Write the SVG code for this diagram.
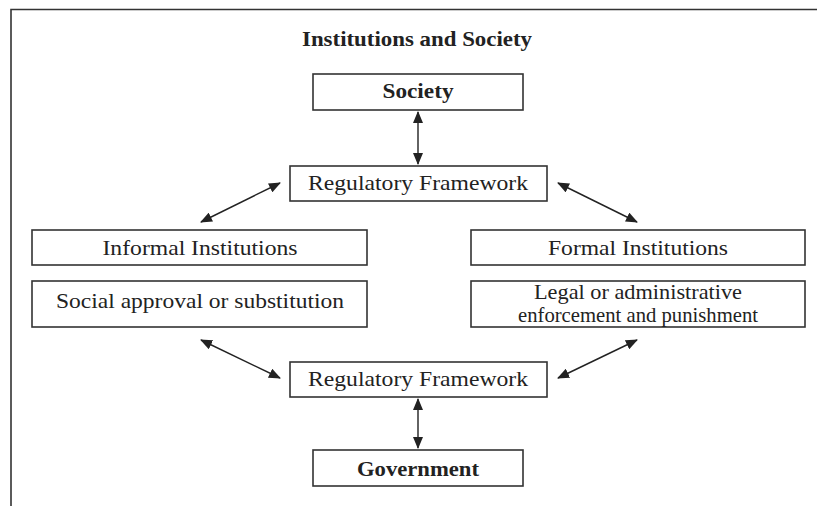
<svg xmlns="http://www.w3.org/2000/svg" width="817" height="506" viewBox="0 0 817 506">
<style>
.box{fill:#fff;stroke:#333;stroke-width:1.6}
.t{font-family:"Liberation Serif","DejaVu Serif",serif;font-size:22px;fill:#222;text-anchor:middle}
.b{font-weight:bold}
.c{stroke:#222;stroke-width:1.4;fill:none;marker-start:url(#ah);marker-end:url(#ah)}
.frame{stroke:#333;stroke-width:1.6;fill:none}
</style>
<defs>
<marker id="ah" viewBox="0 0 12 10" refX="11" refY="5" markerWidth="12" markerHeight="10" markerUnits="userSpaceOnUse" orient="auto-start-reverse">
<path d="M0,0 L12,5 L0,10 Z" fill="#222"/>
</marker>
</defs>
<path class="frame" d="M11,506 V9.5 H817"/>
<text class="t b" x="417" y="46" font-size="20" textLength="230" lengthAdjust="spacingAndGlyphs">Institutions and Society</text>
<g id="society"><rect class="box" x="313" y="74" width="210" height="36"/><text class="t b" x="418" y="98" textLength="71" lengthAdjust="spacingAndGlyphs">Society</text></g>
<g id="regTop"><rect class="box" x="290" y="166" width="257" height="35"/><text class="t" x="418" y="190" textLength="220" lengthAdjust="spacingAndGlyphs">Regulatory Framework</text></g>
<g id="informal"><rect class="box" x="32" y="230" width="335" height="35"/><text class="t" x="200" y="255" textLength="195" lengthAdjust="spacingAndGlyphs">Informal Institutions</text></g>
<g id="formal"><rect class="box" x="471" y="230" width="334" height="35"/><text class="t" x="638" y="255" textLength="180" lengthAdjust="spacingAndGlyphs">Formal Institutions</text></g>
<g id="social"><rect class="box" x="32" y="281" width="335" height="46"/><text class="t" x="200" y="308" textLength="288" lengthAdjust="spacingAndGlyphs">Social approval or substitution</text></g>
<g id="legal"><rect class="box" x="471" y="281" width="334" height="46"/><text class="t" x="638" y="299" textLength="208" lengthAdjust="spacingAndGlyphs">Legal or administrative</text><text class="t" x="638" y="322" textLength="240" lengthAdjust="spacingAndGlyphs">enforcement and punishment</text></g>
<g id="regBottom"><rect class="box" x="290" y="362" width="257" height="35"/><text class="t" x="418" y="386" textLength="220" lengthAdjust="spacingAndGlyphs">Regulatory Framework</text></g>
<g id="government"><rect class="box" x="313" y="450" width="210" height="36"/><text class="t b" x="418" y="476" textLength="122" lengthAdjust="spacingAndGlyphs">Government</text></g>
<g id="connectors">
<line class="c" x1="418" y1="112" x2="418" y2="164"/>
<line class="c" x1="280" y1="183" x2="201" y2="222"/>
<line class="c" x1="558" y1="183" x2="637" y2="222"/>
<line class="c" x1="201" y1="340" x2="280" y2="378"/>
<line class="c" x1="637" y1="340" x2="558" y2="378"/>
<line class="c" x1="418" y1="399" x2="418" y2="448"/>
</g>
</svg>
